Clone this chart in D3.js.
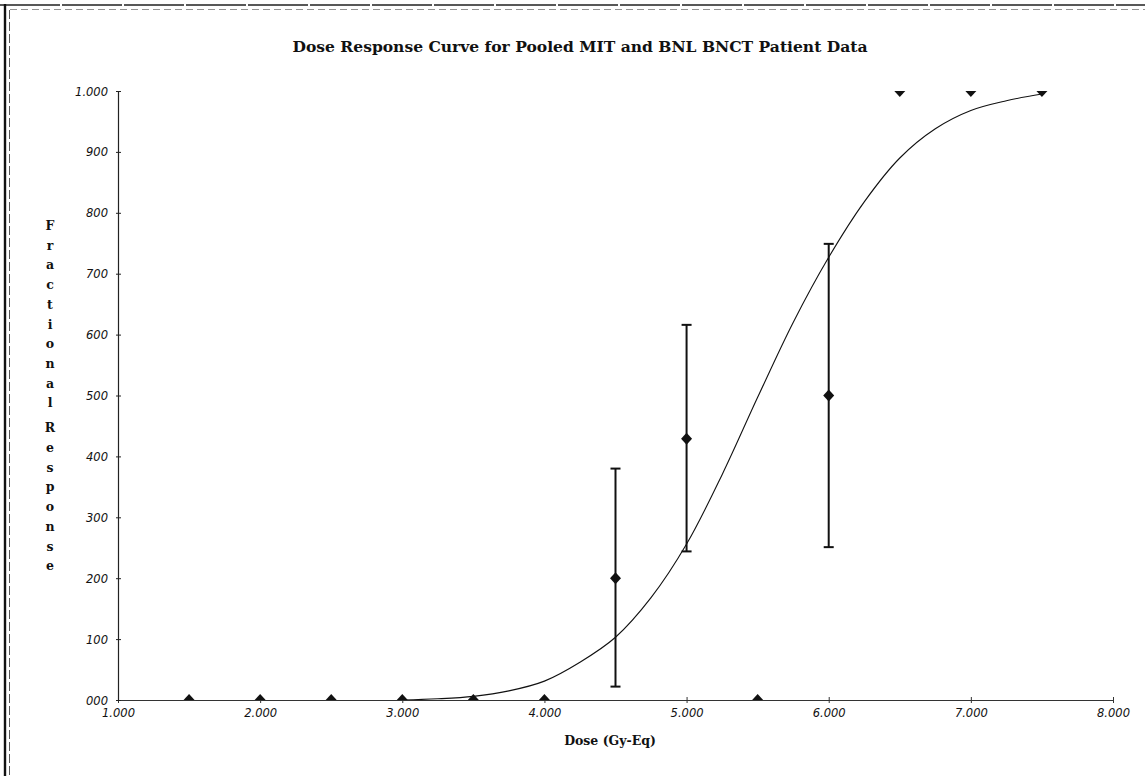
<!DOCTYPE html>
<html>
<head>
<meta charset="utf-8">
<script src="https://cdn.jsdelivr.net/npm/d3@7"></script>
<style>
  html, body { margin: 0; padding: 0; background: #fff; }
  svg { display: block; }
</style>
</head>
<body>
<svg id="chart" width="1145" height="776"></svg>
<script>
// Observed fractional response per dose group
const doses = [1.5, 2.0, 2.5, 3.0, 3.5, 4.0, 4.5, 5.0, 5.5, 6.0, 6.5, 7.0, 7.5];
const responses = [0, 0, 0, 0, 0, 0, 0.2, 0.429, 0, 0.5, 1, 1, 1];

// Error bars (lower / upper limits)
const errDoses = [4.5, 5.0, 6.0];
const errLow = [0.022, 0.244, 0.251];
const errHigh = [0.380, 0.616, 0.749];

// Fitted dose-response curve
const fitDoses = [3.0, 3.25, 3.5, 3.75, 4.0, 4.25, 4.5, 4.75, 5.0, 5.25, 5.5, 5.75, 6.0, 6.25, 6.5, 6.75, 7.0, 7.25, 7.5];
const fitResponses = [0.000, 0.002, 0.006, 0.015, 0.031, 0.062, 0.103, 0.168, 0.256, 0.370, 0.497, 0.620, 0.727, 0.818, 0.890, 0.938, 0.968, 0.984, 0.995];

// Axis ticks
const xTicks = [1, 2, 3, 4, 5, 6, 7, 8];
const xTickLabels = ["1.000", "2.000", "3.000", "4.000", "5.000", "6.000", "7.000", "8.000"];
const yTicks = [0, 0.1, 0.2, 0.3, 0.4, 0.5, 0.6, 0.7, 0.8, 0.9, 1.0];
const yTickLabels = ["000", "100", "200", "300", "400", "500", "600", "700", "800", "900", "1.000"];

const titleText = "Dose Response Curve for Pooled MIT and BNL BNCT Patient Data";
const xTitle = "Dose (Gy-Eq)";
const yTitleWords = ["Fractional", "Response"];

const svg = d3.select("#chart");

// Frame lines along the top and left edges
svg.append("line").attr("x1", 0).attr("x2", 1145).attr("y1", 5).attr("y2", 5)
  .attr("stroke", "#222").attr("stroke-width", 1.6).attr("stroke-dasharray", "60,2");
svg.append("line").attr("x1", 10).attr("x2", 1145).attr("y1", 9.5).attr("y2", 9.5)
  .attr("stroke", "#777").attr("stroke-width", 0.8).attr("stroke-dasharray", "7,4");
svg.append("line").attr("x1", 5).attr("x2", 5).attr("y1", 4).attr("y2", 776)
  .attr("stroke", "#111").attr("stroke-width", 2.4);
svg.append("line").attr("x1", 9.5).attr("x2", 9.5).attr("y1", 10).attr("y2", 776)
  .attr("stroke", "#444").attr("stroke-width", 0.9).attr("stroke-dasharray", "9,3");

const x = d3.scaleLinear().domain([1, 8]).range([118, 1113]);
const y = d3.scaleLinear().domain([0, 1]).range([700, 91]);

// Title
svg.append("text")
  .attr("x", 580).attr("y", 52)
  .attr("text-anchor", "middle")
  .attr("font-family", "'DejaVu Serif', serif")
  .attr("font-weight", "bold")
  .attr("font-size", 14)
  .attr("textLength", 575)
  .attr("lengthAdjust", "spacingAndGlyphs")
  .attr("fill", "#111")
  .text(titleText);

// Axes
const xAxis = d3.axisBottom(x).tickValues(xTicks).tickSize(0).tickFormat((d, i) => xTickLabels[i]);
const gx = svg.append("g").attr("transform", `translate(0,${y(0)})`).call(xAxis);
gx.select(".domain").attr("stroke", "#333").attr("stroke-width", 1.2);
gx.selectAll(".tick text")
  .attr("y", 17).attr("dy", 0)
  .attr("font-family", "'DejaVu Sans', sans-serif")
  .attr("font-style", "italic")
  .attr("font-size", 11.5)
  .attr("fill", "#111");
gx.selectAll(".tick").append("line").attr("y1", -3).attr("y2", 3).attr("stroke", "#333").attr("stroke-width", 1);

const yAxis = d3.axisLeft(y).tickValues(yTicks).tickSize(0).tickFormat((d, i) => yTickLabels[i]);
const gy = svg.append("g").attr("transform", `translate(${x(1)},0)`).call(yAxis);
gy.select(".domain").attr("stroke", "#222").attr("stroke-width", 1.2);
gy.selectAll(".tick text")
  .attr("x", -10).attr("dy", "0.35em")
  .attr("font-family", "'DejaVu Sans', sans-serif")
  .attr("font-style", "italic")
  .attr("font-size", 11.5)
  .attr("fill", "#111");
gy.selectAll(".tick").append("line").attr("x1", -2).attr("x2", 3).attr("stroke", "#222").attr("stroke-width", 1);

// Axis titles
svg.append("text")
  .attr("x", 610).attr("y", 745)
  .attr("text-anchor", "middle")
  .attr("font-family", "'DejaVu Serif', serif")
  .attr("font-weight", "bold")
  .attr("font-size", 12.5)
  .attr("fill", "#111")
  .text(xTitle);

const yTitle = svg.append("text")
  .attr("font-family", "'DejaVu Serif', serif")
  .attr("font-weight", "bold")
  .attr("font-size", 12.5)
  .attr("fill", "#111")
  .attr("text-anchor", "middle");
let baseY = 230;
yTitleWords.forEach((word, wi) => {
  if (wi > 0) baseY += 25 - 19.7;
  word.split("").forEach(ch => {
    yTitle.append("tspan").attr("x", 50).attr("y", baseY).text(ch);
    baseY += 19.7;
  });
});

// Plot area clip
svg.append("clipPath").attr("id", "plotClip")
  .append("rect").attr("x", x(1)).attr("y", y(1)).attr("width", x(8) - x(1)).attr("height", y(0) - y(1));
const plot = svg.append("g").attr("clip-path", "url(#plotClip)");

// Fitted curve
const fit = fitDoses.map((d, i) => [d, fitResponses[i]]);
plot.append("path")
  .datum(fit)
  .attr("fill", "none")
  .attr("stroke", "#111")
  .attr("stroke-width", 1.1)
  .attr("d", d3.line().x(d => x(d[0])).y(d => y(d[1])).curve(d3.curveCatmullRom.alpha(0.5)));

// Error bars
const errs = errDoses.map((d, i) => ({ d, lo: errLow[i], hi: errHigh[i] }));
const eg = svg.append("g").attr("stroke", "#111").attr("stroke-width", 2);
errs.forEach(e => {
  eg.append("line").attr("x1", x(e.d)).attr("x2", x(e.d)).attr("y1", y(e.lo)).attr("y2", y(e.hi));
  eg.append("line").attr("x1", x(e.d) - 5).attr("x2", x(e.d) + 5).attr("y1", y(e.lo)).attr("y2", y(e.lo));
  eg.append("line").attr("x1", x(e.d) - 5).attr("x2", x(e.d) + 5).attr("y1", y(e.hi)).attr("y2", y(e.hi));
});

// Diamond markers
const pts = doses.map((d, i) => ({ d, r: responses[i] }));
plot.selectAll("path.pt")
  .data(pts)
  .join("path")
  .attr("class", "pt")
  .attr("fill", "#111")
  .attr("d", p => {
    const cx = x(p.d), cy = y(p.r);
    return `M${cx},${cy - 6}L${cx + 5.5},${cy}L${cx},${cy + 6}L${cx - 5.5},${cy}Z`;
  });
</script>
</body>
</html>
